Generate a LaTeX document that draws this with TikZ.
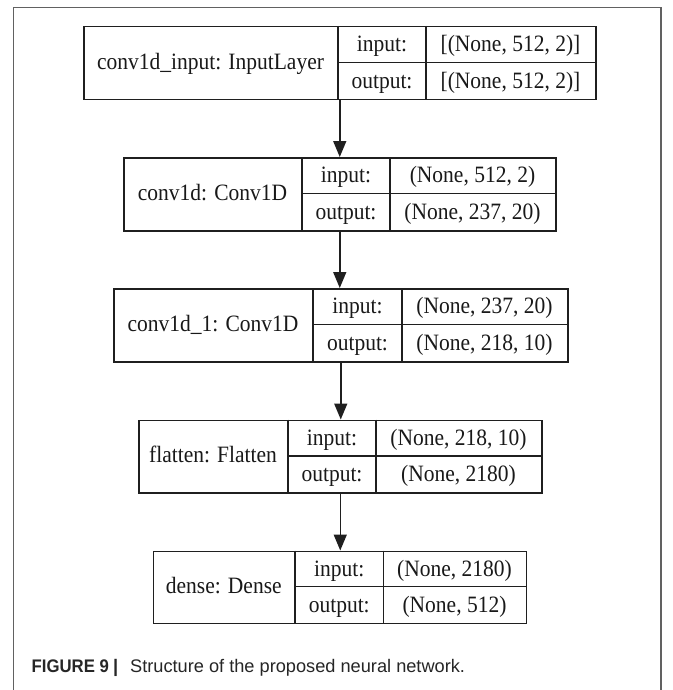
\documentclass[tikz,border=0pt]{standalone}
\usepackage{fontspec}
\setmainfont{Liberation Serif}
\newfontfamily\capfont{Liberation Sans}
\usetikzlibrary{arrows.meta}
\newcommand\vst[1]{\scalebox{1}[1.09]{#1}}
\newcommand\layergeom[7]{\def\Lid{#1}\def\La{#2}\def\Lb{#3}\def\Lc{#4}\def\Ld{#5}\def\Lt{#6}\def\Lbot{#7}}
\newcommand\layertext[3]{%
  \pgfmathsetmacro\Lw{\Ld-\La}%
  \pgfmathsetmacro\Lh{\Lbot-\Lt}%
  \pgfmathsetmacro\Lm{(\Lt+\Lbot)/2}%
  \pgfmathsetmacro\Lrt{(\Lt+\Lm)/2+7.5}%
  \pgfmathsetmacro\Lrb{(\Lm+\Lbot)/2+7.5}%
  \pgfmathsetmacro\Lnb{\Lm+7}%
  \node[boxline, draw, minimum width=\Lw pt, minimum height=\Lh pt, inner sep=0pt, anchor=north west] (\Lid) at (\La,\Lt) {};
  \draw[boxline] (\Lb,\Lt) -- (\Lb,\Lbot);
  \draw[boxline] (\Lc,\Lt) -- (\Lc,\Lbot);
  \draw[boxline] (\Lb,\Lm) -- (\Ld,\Lm);
  \node[txt] (\Lid-name) at ({(\La+\Lb)/2},\Lnb) {\vst{#1}};
  \node[txt] (\Lid-in) at ({(\Lb+\Lc)/2},\Lrt) {\vst{input:}};
  \node[txt] (\Lid-out) at ({(\Lb+\Lc)/2},\Lrb) {\vst{output:}};
  \node[txt] (\Lid-inv) at ({(\Lc+\Ld)/2},\Lrt) {\vst{#2}};
  \node[txt] (\Lid-outv) at ({(\Lc+\Ld)/2},\Lrb) {\vst{#3}};
}
\begin{document}
\begin{tikzpicture}[x=1pt,y=-1pt,
  boxline/.style={line width=1.5pt, draw=black!88},
  txt/.style={anchor=base, inner sep=0pt, font=\fontsize{21.5}{24}\selectfont, text=black!90},
  flow/.style={line width=1.5pt, draw=black!88, -{Triangle[length=16pt,width=13pt]}},
  frameline/.style={line width=1.3pt, draw=black!62}]
\useasboundingbox (0,0) rectangle (672,690);
\fill[white] (0,0) rectangle (672,690);
\draw[frameline] (13.3,690) -- (13.3,7.3) -- (661,7.3) -- (661,690);

\layergeom{L1}{83}{338}{426}{595}{26}{99}
\layertext{conv1d\_input: InputLayer}{[(None, 512, 2)]}{[(None, 512, 2)]}
\layergeom{L2}{123}{302}{390}{555}{157}{230}
\layertext{conv1d: Conv1D}{(None, 512, 2)}{(None, 237, 20)}
\layergeom{L3}{113}{313}{402}{567}{288}{361}
\layertext{conv1d\_1: Conv1D}{(None, 237, 20)}{(None, 218, 10)}
\layergeom{L4}{138}{288}{376}{541}{419.5}{492}
\layertext{flatten: Flatten}{(None, 218, 10)}{(None, 2180)}
\layergeom{L5}{152.5}{295}{383.5}{525.5}{550.5}{622.5}
\layertext{dense: Dense}{(None, 2180)}{(None, 512)}

\draw[flow] (L1.south) -- (L1.south |- L2.north);
\draw[flow] (L2.south) -- (L2.south |- L3.north);
\draw[flow] (L3.south) -- (L3.south |- L4.north);
\draw[flow] (L4.south) -- (L4.south |- L5.north);

\node[anchor=base west, inner sep=0pt, text=black!85] (capa) at (31.5,672)
  {\capfont\fontsize{18.2}{22}\selectfont\scalebox{0.92}[1]{\bfseries FIGURE 9}};
\node[anchor=base west, inner sep=0pt, text=black!85] (capb) at (113,672)
  {\capfont\fontsize{18.2}{22}\selectfont\bfseries |};
\node[anchor=base west, inner sep=0pt, text=black!85] (capc) at (130,672)
  {\capfont\fontsize{18.2}{22}\selectfont Structure of the proposed neural network.};
\end{tikzpicture}
\end{document}
